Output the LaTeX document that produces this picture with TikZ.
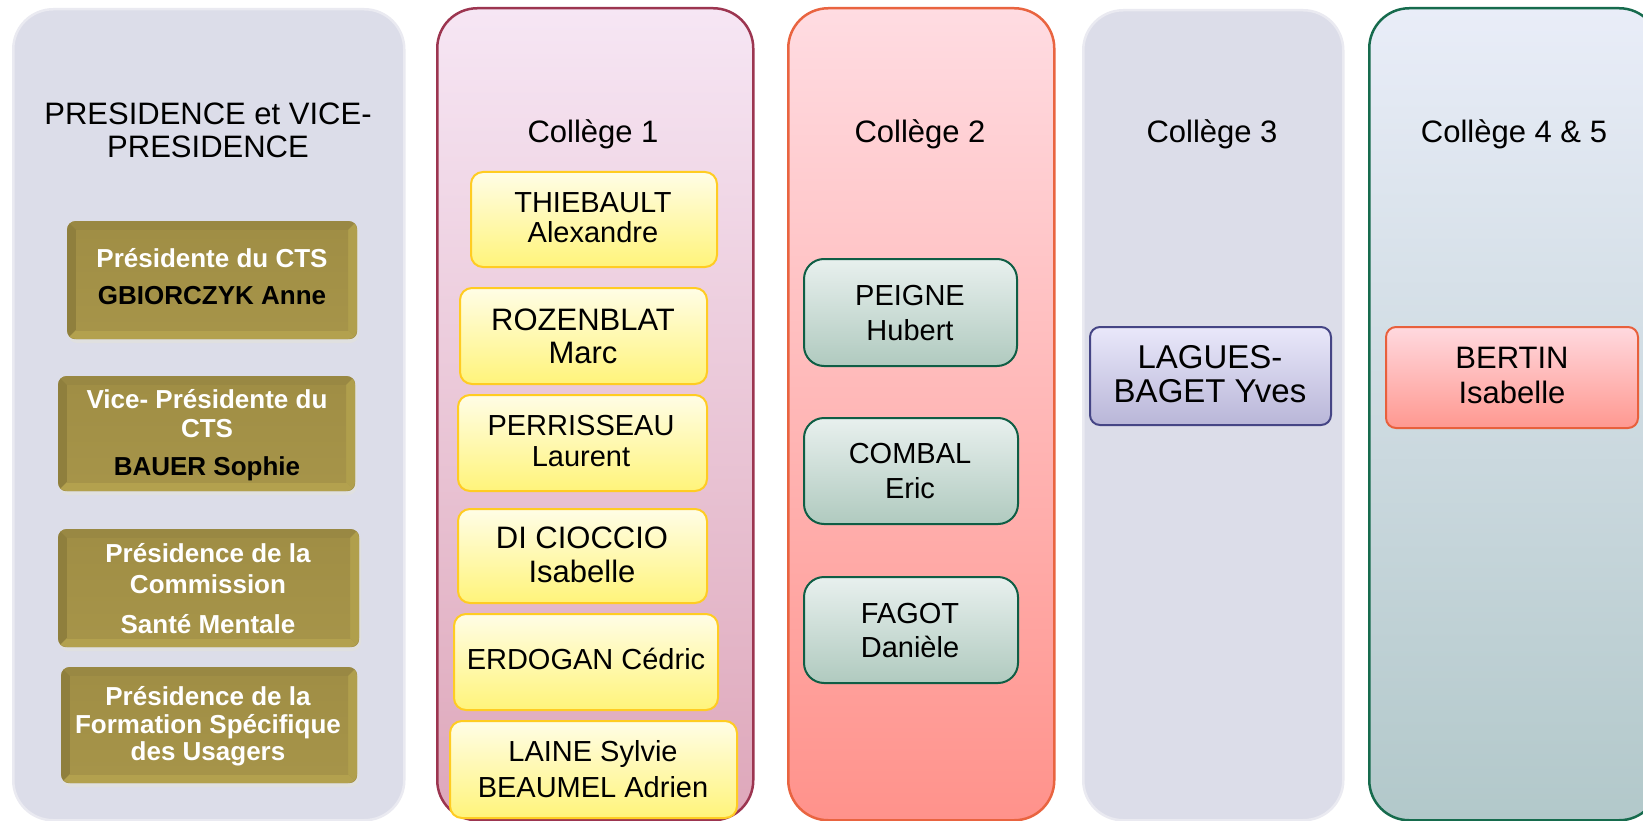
\documentclass[tikz,border=0pt]{standalone}
\usepackage{fontspec}
\setmainfont{Liberation Sans}
\definecolor{colgray}{HTML}{DCDDE9}
\definecolor{colgrayb}{HTML}{EAEAF1}
\definecolor{c1top}{HTML}{F6E6F4}
\definecolor{c1bot}{HTML}{DEA7BA}
\definecolor{c1bd}{HTML}{9C3550}
\definecolor{c2top}{HTML}{FFDCE2}
\definecolor{c2bot}{HTML}{FF928B}
\definecolor{c2bd}{HTML}{E96440}
\definecolor{c4top}{HTML}{E9EDF8}
\definecolor{c4bot}{HTML}{B2C8CA}
\definecolor{c4bd}{HTML}{166B4D}
\definecolor{ytop}{HTML}{FFFDE6}
\definecolor{ybot}{HTML}{FFF47A}
\definecolor{ybd}{HTML}{FFCC22}
\definecolor{gtop}{HTML}{E8F0EE}
\definecolor{gbot}{HTML}{B0CABF}
\definecolor{gbd}{HTML}{0F5E45}
\definecolor{ltop}{HTML}{E9E8FA}
\definecolor{lbot}{HTML}{B9B6D8}
\definecolor{lbd}{HTML}{454585}
\definecolor{rtop}{HTML}{FFD9DF}
\definecolor{rbot}{HTML}{FF9890}
\definecolor{rbd}{HTML}{E8603C}
\definecolor{goldmid}{HTML}{A08E45}
\definecolor{goldin}{HTML}{A69449}
\definecolor{goldtop}{HTML}{998843}
\definecolor{goldleft}{HTML}{8F7F3D}
\definecolor{goldright}{HTML}{B09F4C}
\definecolor{goldbot}{HTML}{B3A14E}
\tikzset{
  colbox/.style={rectangle, rounded corners=40pt, line width=2.5pt, anchor=north west, inner sep=0pt},
  ybox/.style={rectangle, rounded corners=12pt, line width=2pt, draw=ybd, top color=ytop, bottom color=ybot, anchor=north west, inner sep=0pt},
  gbox/.style={rectangle, rounded corners=20pt, line width=2pt, draw=gbd, top color=gtop, bottom color=gbot, anchor=north west, inner sep=0pt},
  lbox/.style={rectangle, rounded corners=10pt, line width=2pt, draw=lbd, top color=ltop, bottom color=lbot, anchor=north west, inner sep=0pt},
  rbox/.style={rectangle, rounded corners=10pt, line width=2pt, draw=rbd, top color=rtop, bottom color=rbot, anchor=north west, inner sep=0pt},
  goldbase/.style={rectangle, rounded corners=8pt, fill=goldmid, anchor=north west, inner sep=0pt},
  ttl/.style={anchor=base, inner sep=0pt, font=\fontsize{31}{31}\selectfont},
  nm/.style={anchor=base, inner sep=0pt, font=\fontsize{29}{29}\selectfont},
  nmb/.style={anchor=base, inner sep=0pt, font=\fontsize{31}{31}\selectfont},
  nmc/.style={anchor=base, inner sep=0pt, font=\fontsize{33}{33}\selectfont},
  gw/.style={anchor=base, inner sep=0pt, text=white, font=\fontsize{26}{26}\selectfont\bfseries},
  gk/.style={anchor=base, inner sep=0pt, text=black, font=\fontsize{26}{26}\selectfont\bfseries}
}
\newcommand\GoldBevel[5]{%
  \fill[black!12, rounded corners=9pt] (#2+1,#3+3) rectangle (#4+2,#5+4);
  \node[goldbase, minimum width={#4pt-#2pt}, minimum height={#5pt-#3pt}] (#1) at (#2,#3) {};
  \begin{scope}
    \clip[rounded corners=9pt] (#2,#3) rectangle (#4,#5);
    \fill[goldtop] (#2,#3) -- (#4,#3) -- (#4-9,#3+9) -- (#2+9,#3+9) -- cycle;
    \fill[goldleft] (#2,#3) -- (#2+9,#3+9) -- (#2+9,#5-9) -- (#2,#5) -- cycle;
    \fill[goldright] (#4,#3) -- (#4-9,#3+9) -- (#4-9,#5-9) -- (#4,#5) -- cycle;
    \fill[goldbot] (#2,#5) -- (#2+9,#5-9) -- (#4-9,#5-9) -- (#4,#5) -- cycle;
    \shade[top color=goldmid, bottom color=goldin] (#2+9,#3+9) rectangle (#4-9,#5-9);
  \end{scope}}
\begin{document}
\begin{tikzpicture}[x=1pt, y=-1pt]
\useasboundingbox (0,0) rectangle (1643,821);
\clip (0,0) rectangle (1643,821);
\fill[white] (0,0) rectangle (1643,821);

% columns
\node[colbox, draw=colgrayb, fill=colgray, minimum width=391pt, minimum height=811pt] (c0) at (12,8) {};
\node[colbox, draw=c1bd, top color=c1top, bottom color=c1bot, minimum width=316pt, minimum height=812pt] (c1) at (436,7) {};
\node[colbox, draw=c2bd, top color=c2top, bottom color=c2bot, minimum width=266pt, minimum height=812pt] (c2) at (787,7) {};
\node[colbox, draw=colgrayb, fill=colgray, minimum width=260pt, minimum height=810pt] (c3) at (1082,9) {};
\node[colbox, draw=c4bd, top color=c4top, bottom color=c4bot, minimum width=290pt, minimum height=812pt] (c4) at (1368,7) {};

% titles
\node[ttl] (t0a) at (208,125) {PRESIDENCE et VICE-};
\node[ttl] (t0b) at (208,158) {PRESIDENCE};
\node[ttl] (t1) at (593,143) {Collège 1};
\node[ttl] (t2) at (920,143) {Collège 2};
\node[ttl] (t3) at (1212,143) {Collège 3};
\node[ttl] (t4) at (1514,143) {Collège 4 \& 5};

% gold boxes
\GoldBevel{g1}{67}{221}{357}{339}
\GoldBevel{g2}{58}{376}{355}{491}
\GoldBevel{g3}{58}{529}{359}{647}
\GoldBevel{g4}{61}{667}{357}{783}
\node[gw] (g1a) at (212,267) {Présidente du CTS};
\node[gk] (g1b) at (212,304) {GBIORCZYK Anne};
\node[gw] (g2a) at (207,408) {Vice- Présidente du};
\node[gw] (g2b) at (207,437) {CTS};
\node[gk] (g2c) at (207,475) {BAUER Sophie};
\node[gw] (g3a) at (208,562) {Présidence de la};
\node[gw] (g3b) at (208,593) {Commission};
\node[gw] (g3c) at (208,633) {Santé Mentale};
\node[gw] (g4a) at (208,705) {Présidence de la};
\node[gw] (g4b) at (208,733) {Formation Spécifique};
\node[gw] (g4c) at (208,760) {des Usagers};

% college 1
\node[ybox, minimum width=246pt, minimum height=95pt] (y1) at (470,171) {};
\node[ybox, minimum width=247pt, minimum height=96pt] (y2) at (459,287) {};
\node[ybox, minimum width=249pt, minimum height=96pt] (y3) at (457,394) {};
\node[ybox, minimum width=249pt, minimum height=94pt] (y4) at (457,508) {};
\node[ybox, minimum width=264pt, minimum height=96pt] (y5) at (453,613) {};
\node[ybox, minimum width=287pt, minimum height=97pt] (y6) at (449,720) {};
\node[nm] (y1a) at (593,212) {THIEBAULT};
\node[nm] (y1b) at (593,242) {Alexandre};
\node[nmb] (y2a) at (583,330) {ROZENBLAT};
\node[nmb] (y2b) at (583,363) {Marc};
\node[nm] (y3a) at (581,435) {PERRISSEAU};
\node[nm] (y3b) at (581,466) {Laurent};
\node[nmb] (y4a) at (582,548) {DI CIOCCIO};
\node[nmb] (y4b) at (582,582) {Isabelle};
\node[nm] (y5a) at (586,669) {ERDOGAN Cédric};
\node[nm] (y6a) at (593,761) {LAINE Sylvie};
\node[nm] (y6b) at (593,797) {BEAUMEL Adrien};

% college 2
\node[gbox, minimum width=213pt, minimum height=107pt] (p1) at (803,258) {};
\node[gbox, minimum width=214pt, minimum height=106pt] (p2) at (803,417) {};
\node[gbox, minimum width=214pt, minimum height=106pt] (p3) at (803,576) {};
\node[nm] (p1a) at (910,305) {PEIGNE};
\node[nm] (p1b) at (910,340) {Hubert};
\node[nm] (p2a) at (910,463) {COMBAL};
\node[nm] (p2b) at (910,498) {Eric};
\node[nm] (p3a) at (910,623) {FAGOT};
\node[nm] (p3b) at (910,657) {Danièle};

% college 3
\node[lbox, minimum width=241pt, minimum height=98pt] (l1) at (1089,326) {};
\node[nmc] (l1a) at (1210,368) {LAGUES-};
\node[nmc] (l1b) at (1210,402) {BAGET Yves};

% college 4 & 5
\node[rbox, minimum width=252pt, minimum height=101pt] (r1) at (1385,326) {};
\node[nmb] (r1a) at (1512,368) {BERTIN};
\node[nmb] (r1b) at (1512,403) {Isabelle};
\end{tikzpicture}
\end{document}
